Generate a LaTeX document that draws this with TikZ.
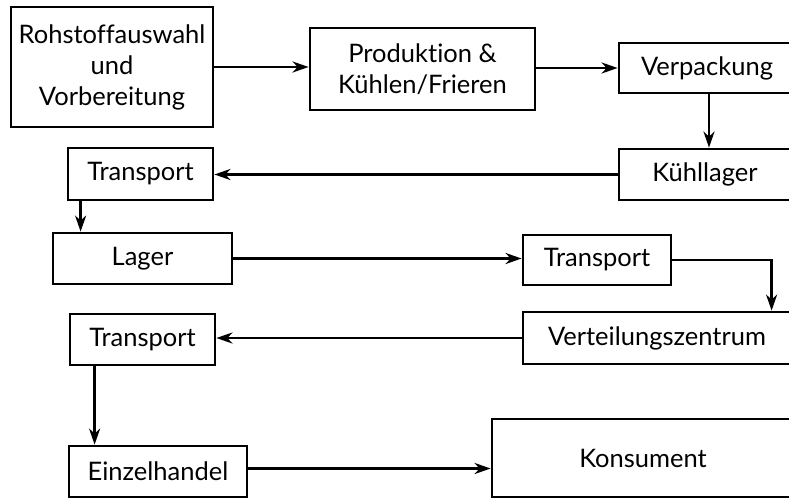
\documentclass[tikz,border=0pt]{standalone}
\usepackage{fontspec}
\setmainfont{Lato}[Ligatures={NoCommon,NoRare,NoContextual}]
\usepackage{tikz}
\usetikzlibrary{positioning,arrows.meta}

\tikzset{
  stage/.style={draw=black,line width=2.8pt,inner sep=0pt,align=center,
                font=\fontsize{25.5}{31}\selectfont},
  flow/.style={line width=2.6pt,-{Stealth[length=16pt,width=11pt,inset=5pt]}}
}

\begin{document}
\begin{tikzpicture}[x=1pt,y=-1pt]
  \useasboundingbox (0,0) rectangle (789,498);
  % process stages
  \node[stage,minimum width=202pt,minimum height=120pt] (rohstoff) at (112,67)
    {Rohstoffauswahl\\und\\Vorbereitung};
  \node[stage,minimum width=225pt,minimum height=82pt] (produktion) at (422.5,69)
    {Produkt\kern0pt ion \&\\Kühlen/Frieren};
  \node[stage,minimum width=176pt,minimum height=50pt] (verpackung) at (707,68) {Verpackung};
  \node[stage,minimum width=172pt,minimum height=51pt] (kuehllager) at (705,174.5) {Kühllager};
  \node[stage,minimum width=145pt,minimum height=52pt] (transportA) at (140.5,174) {Transport};
  \node[stage,minimum width=179pt,minimum height=51pt] (lager) at (142.5,258.5) {Lager};
  \node[stage,minimum width=148pt,minimum height=50pt] (transportB) at (597,260) {Transport};
  \node[stage,minimum width=268pt,minimum height=52pt] (verteilung) at (657,338) {Verteilungszentrum};
  \node[stage,minimum width=145pt,minimum height=51pt] (transportC) at (142.5,339.5) {Transport};
  \node[stage,minimum width=178pt,minimum height=51pt] (einzelhandel) at (158,471.5) {Einzelhandel};
  \node[stage,minimum width=302pt,minimum height=78pt] (konsument) at (643,458) {Konsument};

  % connections
  \draw[flow] (rohstoff.east) -- (produktion.west |- rohstoff.east);
  \draw[flow] (produktion.east |- verpackung.west) -- (verpackung.west);
  \draw[flow] ([xshift=2pt]verpackung.south) -- ([xshift=2pt]verpackung.south |- kuehllager.north);
  \draw[flow] (kuehllager.west) -- (transportA.east |- kuehllager.west);
  \draw[flow] ([xshift=14pt]transportA.south west) -- ([xshift=14pt]transportA.south west |- lager.north);
  \draw[flow] (lager.east) -- (transportB.west |- lager.east);
  \draw[flow] (transportB.east) -| ([xshift=250pt]verteilung.north west);
  \draw[flow] (verteilung.west) -- (transportC.east |- verteilung.west);
  \draw[flow] ([xshift=26pt]transportC.south west) -- ([xshift=26pt]transportC.south west |- einzelhandel.north);
  \draw[flow] ([yshift=3pt]einzelhandel.east) -- ([yshift=3pt]konsument.west |- einzelhandel.east);
\end{tikzpicture}
\end{document}
